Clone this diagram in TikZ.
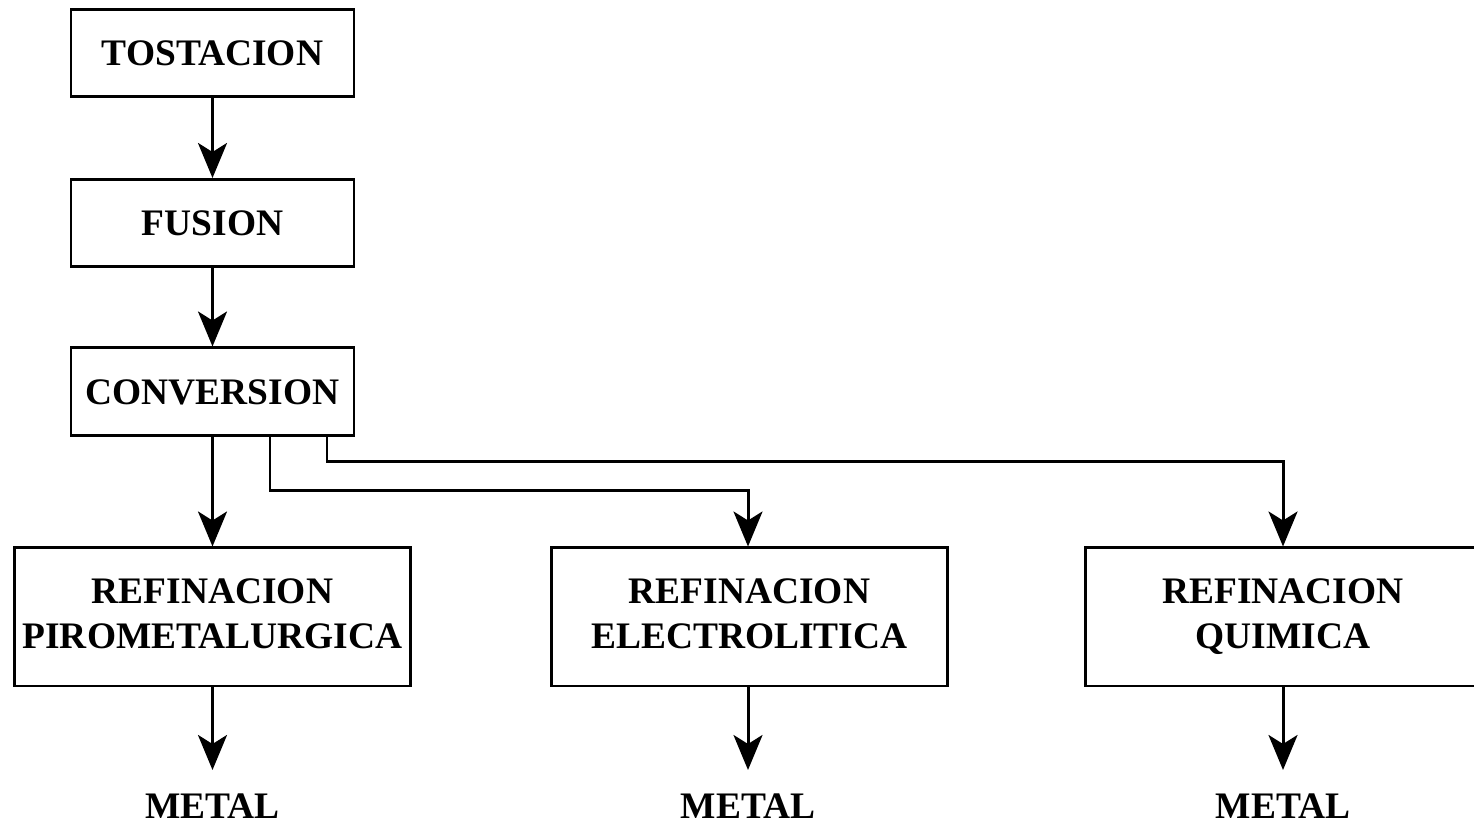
\documentclass[tikz,border=0pt]{standalone}
\usepackage{fontspec}
\setmainfont{Liberation Serif}
\usetikzlibrary{arrows.meta,calc}
\begin{document}
\begin{tikzpicture}[
  box/.style={draw,line width=1.7pt,minimum width=5.66cm,minimum height=1.74cm,inner sep=0pt,align=center,font=\bfseries\fontsize{21.3}{26}\selectfont},
  bigbox/.style={box,minimum width=7.92cm,minimum height=2.76cm},
  lbl/.style={inner sep=0pt,anchor=base,font=\bfseries\fontsize{21.3}{26}\selectfont},
  conn/.style={line width=1.7pt,-{Stealth[length=0.7cm,width=0.58cm,inset=0.18cm]},line join=miter}
]
\useasboundingbox (0,0) rectangle (29.48,16.52);
\node[box] (tost) at (4.25,15.46) {TOSTACION};
\node[box] (fus) at (4.25,12.06) {FUSION};
\node[box,minimum height=1.76cm] (conv) at (4.25,8.68) {CONVERSION};
\node[bigbox] (piro) at (4.25,4.18) {\strut REFINACION\\\strut PIROMETALURGICA};
\node[bigbox] (elec) at (14.99,4.18) {\strut REFINACION\\\strut ELECTROLITICA};
\node[bigbox] (quim) at (25.66,4.18) {\strut REFINACION\\\strut QUIMICA};
\node[lbl] (m1) at (4.25,0.14) {METAL};
\node[lbl] (m2) at (14.96,0.14) {METAL};
\node[lbl] (m3) at (25.66,0.14) {METAL};
\coordinate (c2) at ($(conv.south)+(1.15,0)$);
\coordinate (c3) at ($(conv.south)+(2.29,0)$);
\coordinate (e1) at (4.25,1.12);
\coordinate (e2) at (14.96,1.12);
\coordinate (e3) at (25.66,1.12);
\draw[conn] (tost) -- (fus);
\draw[conn] (fus) -- (conv);
\draw[conn] (conv) -- (piro);
\draw[conn] (c2) |- (14.96,6.70) -- (elec.north -| 14.96,0);
\draw[conn] (c3) |- (25.66,7.28) -- (quim.north);
\draw[conn] (piro) -- (e1);
\draw[conn] (elec.south -| e2) -- (e2);
\draw[conn] (quim) -- (e3);
\end{tikzpicture}
\end{document}
